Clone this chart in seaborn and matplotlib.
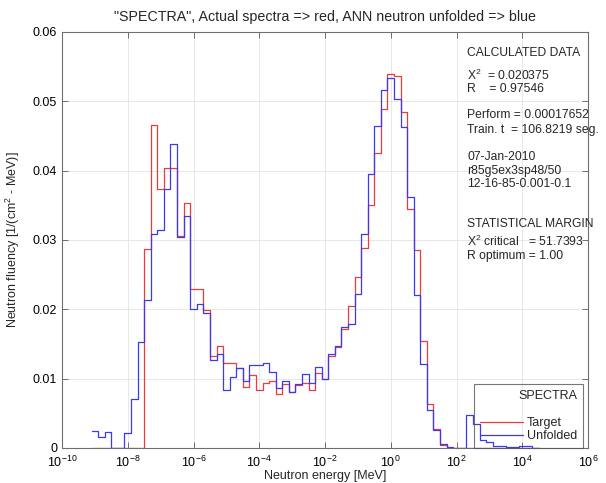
import numpy as np
import pandas as pd
import matplotlib
matplotlib.use("Agg")
import matplotlib.pyplot as plt
from matplotlib.lines import Line2D
from matplotlib.ticker import FixedLocator, FixedFormatter, NullLocator
import seaborn as sns

# ---- data -------------------------------------------------------------
# energy grid: equal-lethargy bins, 0.2 decades wide, first edge at 10^-9.1 MeV
first_log_edge = -9.1
decades_per_bin = 0.2

unfolded = [0.0025, 0.0016, 0.0023, 0.0, 0.0, 0.0022, 0.0070, 0.0153,
            0.0214, 0.0308, 0.0315, 0.0373, 0.0439, 0.0304, 0.0334, 0.0200,
            0.0207, 0.0195, 0.0127, 0.0135, 0.0083, 0.0102, 0.0115, 0.0096,
            0.0119, 0.0119, 0.0123, 0.0109, 0.0086, 0.0096, 0.0081, 0.0093,
            0.0107, 0.0094, 0.0117, 0.0100, 0.0135, 0.0147, 0.0175, 0.0179,
            0.0222, 0.0308, 0.0395, 0.0464, 0.0517, 0.0534, 0.0503, 0.0463,
            0.0362, 0.0220, 0.0121, 0.0055, 0.0026, 0.0006, 0.0002, 0.0,
            0.0, 0.0048, 0.0035, 0.0012, 0.0009, 0.0003, 0.0003, 0.0002,
            0.0002, 0.0003, 0.0003, 0.0]
target = [0.0, 0.0, 0.0, 0.0, 0.0, 0.0, 0.0, 0.0,
          0.0287, 0.0466, 0.0373, 0.0404, 0.0404, 0.0306, 0.0354, 0.0229,
          0.0229, 0.0199, 0.0133, 0.0147, 0.0122, 0.0122, 0.0115, 0.0088,
          0.0105, 0.0084, 0.0094, 0.0096, 0.0078, 0.0093, 0.0081, 0.0091,
          0.0094, 0.0084, 0.0108, 0.0100, 0.0132, 0.0146, 0.0172, 0.0205,
          0.0246, 0.0289, 0.0350, 0.0425, 0.0489, 0.0539, 0.0536, 0.0484,
          0.0344, 0.0285, 0.0154, 0.0064, 0.0028, 0.0005, 0.0, 0.0,
          0.0, 0.0, 0.0, 0.0, 0.0, 0.0, 0.0, 0.0,
          0.0, 0.0, 0.0, 0.0]

x_tick_exponents = [-10, -8, -6, -4, -2, 0, 2, 4, 6]
y_ticks = [0, 0.01, 0.02, 0.03, 0.04, 0.05, 0.06]
y_tick_labels = ["0", "0.01", "0.02", "0.03", "0.04", "0.05", "0.06"]

title = '"SPECTRA", Actual spectra => red, ANN neutron unfolded => blue'
xlabel = "Neutron energy [MeV]"
ylabel = "Neutron fluency [1/(cm$^2$ - MeV)]"

info_lines = [
    ("CALCULATED DATA", 53),
    ("X$^2$  = 0.020375", 75),
    ("R    = 0.97546", 89),
    ("Perform = 0.00017652", 115),
    ("Train. t  = 106.8219 seg.", 130),
    ("07-Jan-2010", 157),
    ("r85g5ex3sp48/50", 171),
    ("12-16-85-0.001-0.1", 184),
    ("STATISTICAL MARGIN", 224),
    ("X$^2$ critical   = 51.7393", 241),
    ("R optimum = 1.00", 256),
]

# ---- build frame ------------------------------------------------------
nb = len(unfolded)
edges = 10.0 ** (first_log_edge + decades_per_bin * np.arange(nb + 1))
df_t = pd.DataFrame({"E": edges, "v": target + [target[-1]]})
df_u = pd.DataFrame({"E": edges, "v": unfolded + [unfolded[-1]]})

# ---- style ------------------------------------------------------------
sns.set_style("white")
plt.rcParams["font.family"] = ["Liberation Sans", "DejaVu Sans"]
plt.rcParams["mathtext.default"] = "regular"

W, H = 606, 483
fig = plt.figure(figsize=(W / 100, H / 100), dpi=100)
ax = fig.add_axes([62 / W, 1 - 448 / H, (588 - 62) / W, (448 - 32) / H])
ax.set_xscale("log")

red = "#ee3a3a"
blue = "#3a3aee"
sns.lineplot(data=df_t, x="E", y="v", ax=ax, drawstyle="steps-post",
             color=red, lw=0.9, estimator=None, sort=False)
sns.lineplot(data=df_u, x="E", y="v", ax=ax, drawstyle="steps-post",
             color=blue, lw=0.9, estimator=None, sort=False)

ax.set_xlim(1e-10, 1e6)
ax.set_ylim(0, 0.06)
ax.xaxis.set_major_locator(FixedLocator([10.0 ** e for e in x_tick_exponents]))
ax.xaxis.set_major_formatter(FixedFormatter(["10$^{%d}$" % e for e in x_tick_exponents]))
ax.xaxis.set_minor_locator(NullLocator())
ax.yaxis.set_major_locator(FixedLocator(y_ticks))
ax.yaxis.set_major_formatter(FixedFormatter(y_tick_labels))

ax.grid(True, color="#e4e4e4", lw=0.6)
for s in ax.spines.values():
    s.set_color("#6e6e6e")
    s.set_linewidth(0.8)
ax.tick_params(direction="in", length=4, width=0.7, colors="#6e6e6e",
               labelcolor="black", labelsize=9, top=True, right=True,
               bottom=True, left=True)
ax.tick_params(axis="x", pad=5)

ax.set_xlabel(xlabel, fontsize=9, labelpad=0)
ax.set_ylabel(ylabel, fontsize=9, labelpad=8)
ax.set_title(title, fontsize=10.3, pad=8)

for txt, ypx in info_lines:
    fig.text(467 / W, 1 - ypx / H, txt, fontsize=8.7, va="center", ha="left")

handles = [Line2D([], [], color=red, lw=0.9), Line2D([], [], color=blue, lw=0.9)]
leg = ax.legend(handles=handles, labels=["Target", "Unfolded"],
                title="SPECTRA\n", loc="lower right",
                bbox_to_anchor=(0.9905, 0.0), borderaxespad=0.0,
                alignment="right", frameon=True, fancybox=False,
                fontsize=9, title_fontsize=9, handlelength=3.5,
                handletextpad=0.3, labelspacing=0.1, borderpad=0.45)
fr = leg.get_frame()
fr.set_facecolor("none")
fr.set_edgecolor("#555555")
fr.set_linewidth(0.8)

fig.savefig("out.png", dpi=100)
